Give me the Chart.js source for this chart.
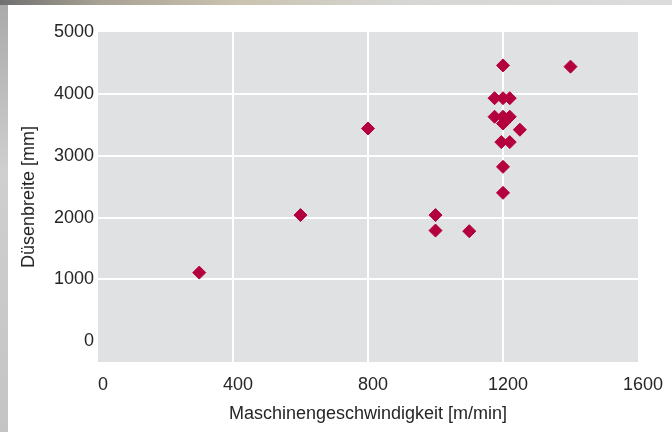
<!DOCTYPE html>
<html>
<head>
<meta charset="utf-8">
<script src="https://cdn.jsdelivr.net/npm/chart.js@4"></script>
<style>
  html, body { margin: 0; padding: 0; }
  body {
    width: 672px; height: 432px; position: relative; overflow: hidden;
    background: linear-gradient(180deg, #a9a9a9 0%, #cfcfcf 40%, #c4c4c4 100%);
  }
  #topStrip {
    position: absolute; left: 0; top: 0; width: 672px; height: 5px;
    background: linear-gradient(90deg, #707070 0%, #a8a294 15%, #c9c2ae 35%, #d6d6d4 60%, #dcdcdc 100%);
  }
  #card { position: absolute; left: 8px; top: 5px; right: 0; bottom: 0; background: #fff; }
  #wrap { position: absolute; left: 0; top: 0; width: 672px; height: 432px; }
</style>
</head>
<body>
<div id="topStrip"></div>
<div id="card"></div>
<div id="wrap"><canvas id="myChart" width="672" height="432"></canvas></div>
<script>
const ctx = document.querySelector("#myChart").getContext("2d");

// machine speed [m/min] and nozzle width [mm]
const speeds = [300, 600, 800, 1000, 1000, 1100, 1200, 1175, 1200, 1220, 1175, 1200, 1220, 1200, 1250, 1195, 1220, 1200, 1200, 1400];
const widths = [1110, 2040, 3440, 2040, 1790, 1780, 4460, 3930, 3930, 3930, 3630, 3630, 3630, 3520, 3420, 3220, 3220, 2820, 2400, 4440];
const xTicks = [0, 400, 800, 1200, 1600];
const yTicks = [0, 1000, 2000, 3000, 4000, 5000];

const fontFamily = "'Liberation Sans', Arial, sans-serif";
const fontSize = 18;
const textColor = "#262626";

// gray plot background
const plotBackground = {
  id: "plotBackground",
  beforeDraw: (chart) => {
    const { ctx, chartArea } = chart;
    ctx.save();
    ctx.fillStyle = "#e0e1e3";
    ctx.fillRect(chartArea.left, chartArea.top, chartArea.right - chartArea.left, chartArea.bottom - chartArea.top);
    ctx.restore();
  },
};

const points = speeds.map((s, i) => ({ x: s, y: widths[i] }));

const scatterChart = new Chart(ctx, {
  type: "scatter",
  data: {
    datasets: [
      {
        data: points,
        pointStyle: "rectRot",
        pointRadius: 6.5,
        pointHoverRadius: 6.5,
        backgroundColor: "#b4003c",
        borderColor: "#b4003c",
        borderWidth: 1,
      },
    ],
  },
  options: {
    responsive: false,
    animation: false,
    layout: { padding: { top: 32, right: 34, left: 0, bottom: 0 } },
    plugins: {
      legend: { display: false },
      tooltip: { enabled: false },
    },
    scales: {
      x: {
        type: "linear",
        min: 0,
        max: 1600,
        afterBuildTicks: (s) => { s.ticks = xTicks.map((v) => ({ value: v })); },
        afterFit: (s) => { s.height = 70; },
        border: { display: false },
        grid: {
          drawTicks: false,
          lineWidth: 2,
          color: (c) => (c.tick && (c.tick.value === 0 || c.tick.value === 1600) ? "rgba(0,0,0,0)" : "#ffffff"),
        },
        ticks: {
          padding: 12,
          labelOffset: 5,
          maxRotation: 0,
          color: textColor,
          font: { family: fontFamily, size: fontSize },
          callback: (v) => String(v),
        },
        title: {
          display: true,
          text: "Maschinengeschwindigkeit [m/min]",
          color: textColor,
          font: { family: fontFamily, size: fontSize },
          padding: { top: 0, bottom: 7 },
        },
      },
      y: {
        min: -335,
        max: 5000,
        afterBuildTicks: (s) => { s.ticks = yTicks.map((v) => ({ value: v })); },
        afterFit: (s) => { s.width = 98; },
        border: { display: false },
        grid: {
          drawTicks: false,
          lineWidth: 2,
          color: (c) => (c.tick && (c.tick.value === 0 || c.tick.value === 5000) ? "rgba(0,0,0,0)" : "#ffffff"),
        },
        ticks: {
          padding: 4,
          color: textColor,
          font: { family: fontFamily, size: fontSize },
          callback: (v) => String(v),
        },
        title: {
          display: true,
          text: "Düsenbreite [mm]",
          color: textColor,
          font: { family: fontFamily, size: fontSize },
          padding: { top: 18, bottom: 0 },
        },
      },
    },
  },
  plugins: [plotBackground],
});
</script>
</body>
</html>
